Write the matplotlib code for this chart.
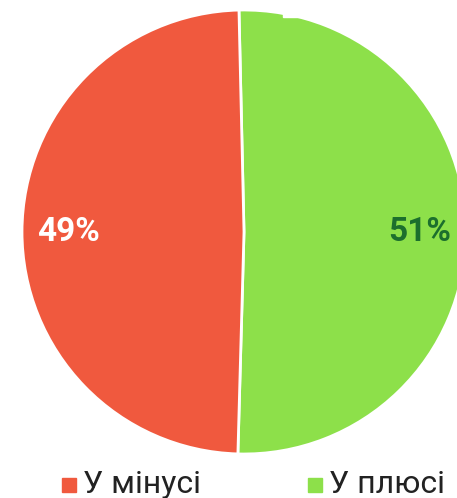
import numpy as np
import matplotlib.pyplot as plt
from matplotlib.patches import Rectangle

labels = ["У плюсі", "У мінусі"]
values = [50.8, 49.2]
colors = ["#8DE04A", "#F0593E"]
pct_colors = ["#1C6F2D", "#FFFFFF"]

W, H = 457, 498
fig = plt.figure(figsize=(W / 100, H / 100), dpi=100)
plt.rcParams['font.family'] = ['Roboto', 'DejaVu Sans']

# pie: centre (244, 232) px, radius 222 px
cx, cy, r = 244, 232, 222
ax = fig.add_axes([(cx - r) / W, (H - cy - r) / H, 2 * r / W, 2 * r / H])
wedges, texts, autotexts = ax.pie(values, colors=colors, startangle=91.3, counterclock=False,
                                  radius=1, autopct="%.0f%%", pctdistance=0.79,
                                  wedgeprops=dict(edgecolor="white", linewidth=2))
for t, c in zip(autotexts, pct_colors):
    t.set_color(c)
    t.set_fontsize(24)
    t.set_fontweight("bold")
ax.set_xlim(-1, 1)
ax.set_ylim(-1, 1)
ax.set_aspect("equal")
ax.axis("off")

# white notch at top-right in the original screenshot
fig.patches.append(Rectangle((283 / W, (H - 17) / H), (W - 283) / W, 17 / H,
                             transform=fig.transFigure, color="white", zorder=5))

# legend
items = [("У мінусі", colors[1], 62), ("У плюсі", colors[0], 308)]
for txt, col, x in items:
    fig.patches.append(Rectangle((x / W, (H - 492) / H), 14 / W, 14 / H,
                                 transform=fig.transFigure, color=col))
    fig.text((x + 21) / W, (H - 493) / H, txt, fontsize=23, color="#222222",
             ha="left", va="baseline")

fig.savefig("out.png", dpi=100)
